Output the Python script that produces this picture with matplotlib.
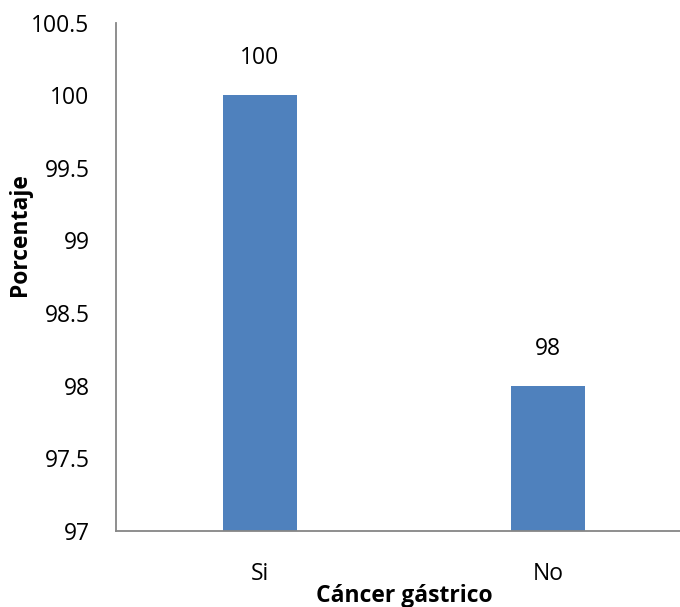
import matplotlib.pyplot as plt

categorias = ['Si', 'No']
porcentajes = [100, 98]
yticks = [97, 97.5, 98, 98.5, 99, 99.5, 100, 100.5]

plt.rcParams['font.family'] = ['Open Sans', 'DejaVu Sans']

fig = plt.figure(figsize=(6.8, 6.07), dpi=100)
ax = fig.add_axes([116 / 680, 76 / 607, 576 / 680, 508.5 / 607])

x = range(len(categorias))
bars = ax.bar(x, porcentajes, width=0.257, color='#4F81BD', zorder=2)

ax.set_xlim(-0.5, 1.5)
ax.set_ylim(97, 100.5)
ax.set_yticks(yticks)
ax.set_yticklabels([f'{t:g}' for t in yticks], fontsize=16.5)
ax.set_xticks(list(x))
ax.set_xticklabels(categorias, fontsize=16.5)
ax.tick_params(axis='y', length=0, pad=19)
ax.tick_params(axis='x', length=0, pad=22)

for s in ['top', 'right']:
    ax.spines[s].set_visible(False)
for s in ['left', 'bottom']:
    ax.spines[s].set_color('#868686')
    ax.spines[s].set_linewidth(1.3)

for b, v in zip(bars, porcentajes):
    ax.annotate(f'{v:g}', (b.get_x() + b.get_width() / 2, v),
                xytext=(0, 37), textcoords='offset pixels',
                ha='center', va='center', fontsize=16.5)

fig.text(404 / 680, 1 - 596 / 607, 'Cáncer gástrico', ha='center', va='center',
         fontsize=16.5, fontweight='bold')
fig.text(20 / 680, 1 - 235 / 607, 'Porcentaje', ha='center', va='center',
         rotation=90, fontsize=16.5, fontweight='bold')

fig.savefig('out.png', dpi=100)
